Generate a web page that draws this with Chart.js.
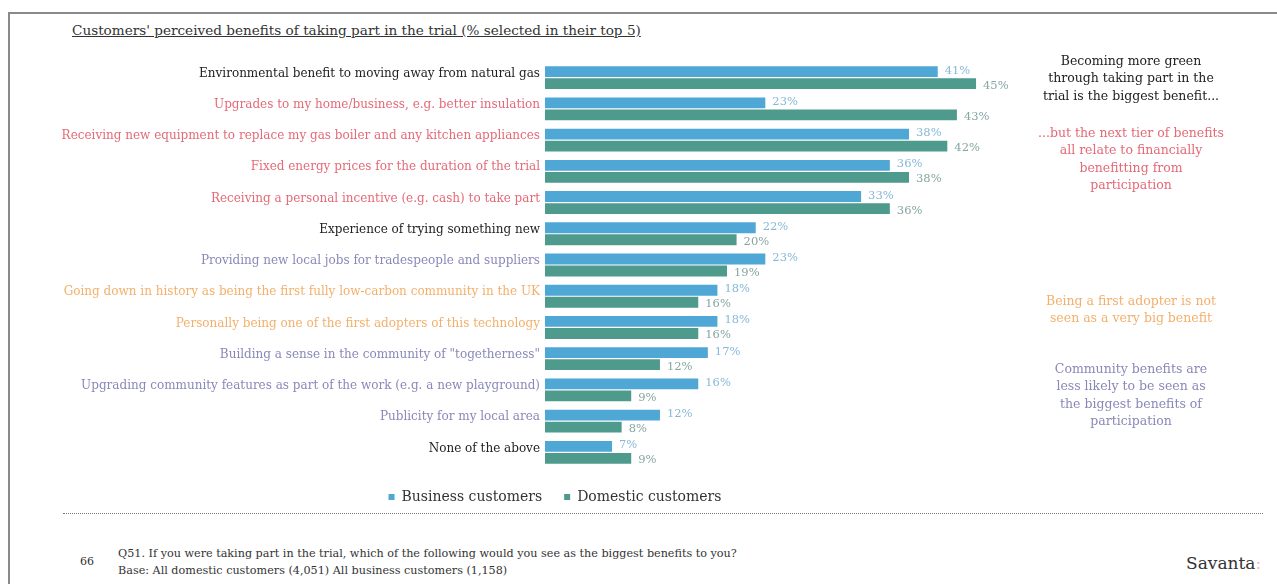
<!DOCTYPE html>
<html>
<head>
<meta charset="utf-8">
<script src="https://cdn.jsdelivr.net/npm/chart.js@4/dist/chart.umd.min.js"></script>
<style>
  html, body { margin: 0; padding: 0; background: #fff; }
  body { width: 1277px; height: 584px; position: relative; overflow: hidden; font-family: "DejaVu Serif", Georgia, serif; }
  #frame { position: absolute; left: 8px; top: 12px; width: 1280px; height: 600px; border-left: 2px solid #8a8a8a; border-top: 2px solid #8a8a8a; }
  #wrap { position: absolute; left: 0; top: 0; width: 1277px; height: 516px; }
  .title { position: absolute; left: 72px; top: 22px; font-size: 13.6px; color: #333; text-decoration: underline; white-space: nowrap; }
  .note { position: absolute; text-align: center; font-size: 12.5px; line-height: 17.3px; white-space: nowrap; }
  #dots { position: absolute; left: 63px; top: 513px; width: 1200px; border-top: 1px dotted #777; }
  .foot { position: absolute; font-size: 11.2px; color: #333; white-space: nowrap; }
  .brand { position: absolute; left: 1186px; top: 553px; font-size: 17px; color: #333; }
  .brand span { color: #f4b8c4; }
</style>
</head>
<body>
<div id="frame"></div>
<div class="title">Customers' perceived benefits of taking part in the trial (% selected in their top 5)</div>
<div id="wrap"><canvas id="chart" width="1277" height="516"></canvas></div>

<div class="note" style="left:1031px; top:52px; width:200px; color:#222;">Becoming more green<br>through taking part in the<br>trial is the biggest benefit...</div>
<div class="note" style="left:1031px; top:124px; width:200px; color:#e46a76;">...but the next tier of benefits<br>all relate to financially<br>benefitting from<br>participation</div>
<div class="note" style="left:1031px; top:292px; width:200px; color:#f3b06c;">Being a first adopter is not<br>seen as a very big benefit</div>
<div class="note" style="left:1031px; top:360px; width:200px; color:#8a88b8;">Community benefits are<br>less likely to be seen as<br>the biggest benefits of<br>participation</div>

<div id="dots"></div>
<div class="foot" style="left:80px; top:555px; font-size:11px;">66</div>
<div class="foot" style="left:118px; top:547px;">Q51. If you were taking part in the trial, which of the following would you see as the biggest benefits to you?</div>
<div class="foot" style="left:118px; top:564px;">Base: All domestic customers (4,051) All business customers (1,158)</div>
<div class="brand">Savanta<span>:</span></div>

<script>
// Benefit statements, in the order they are listed
const categories = [
  "Environmental benefit to moving away from natural gas",
  "Upgrades to my home/business, e.g. better insulation",
  "Receiving new equipment to replace my gas boiler and any kitchen appliances",
  "Fixed energy prices for the duration of the trial",
  "Receiving a personal incentive (e.g. cash) to take part",
  "Experience of trying something new",
  "Providing new local jobs for tradespeople and suppliers",
  "Going down in history as being the first fully low-carbon community in the UK",
  "Personally being one of the first adopters of this technology",
  "Building a sense in the community of \"togetherness\"",
  "Upgrading community features as part of the work (e.g. a new playground)",
  "Publicity for my local area",
  "None of the above"
];

// % selecting each benefit in their top 5
const businessValues = [41, 23, 38, 36, 33, 22, 23, 18, 18, 17, 16, 12, 7];
const domesticValues = [45, 43, 42, 38, 36, 20, 19, 16, 16, 12, 9, 8, 9];

// Theme group of each statement (drives label colour)
const themeGroups = ["green", "money", "money", "money", "money", "other", "community",
                     "adopter", "adopter", "community", "community", "community", "other"];

const themeColours = {
  green: "#222222",
  other: "#222222",
  money: "#e46a76",
  community: "#8a88b8",
  adopter: "#f3b06c"
};

const BUSINESS_BAR = "#4fa7d6";
const DOMESTIC_BAR = "#4e9a8d";
const BUSINESS_LABEL = "#86b9d8";
const DOMESTIC_LABEL = "#86a6a2";

const CHART_LEFT = 545;
const LEGEND_LEFT = 110;

// Percentage labels at the end of each bar
const valueLabels = {
  id: "valueLabels",
  afterDatasetsDraw(chart) {
    const ctx = chart.ctx;
    ctx.save();
    ctx.font = "11.5px 'DejaVu Serif', serif";
    ctx.textAlign = "left";
    ctx.textBaseline = "middle";
    chart.data.datasets.forEach((ds, di) => {
      const meta = chart.getDatasetMeta(di);
      ctx.fillStyle = di === 0 ? BUSINESS_LABEL : DOMESTIC_LABEL;
      meta.data.forEach((bar, i) => {
        ctx.fillText(ds.data[i] + "%", bar.x + 7, bar.y + (di === 0 ? -1 : 2));
      });
    });
    ctx.restore();
  }
};

// Centre the legend under the whole figure rather than the full canvas
const legendBand = {
  id: "legendBand",
  beforeDraw(chart) {
    if (chart.legend) {
      chart.legend.left = LEGEND_LEFT;
      chart.legend.right = chart.chartArea.right;
    }
  }
};

new Chart(document.getElementById("chart"), {
  type: "bar",
  data: {
    labels: categories,
    datasets: [
      { label: "Business customers", data: businessValues, backgroundColor: BUSINESS_BAR,
        categoryPercentage: 0.77, barPercentage: 0.9 },
      { label: "Domestic customers", data: domesticValues, backgroundColor: DOMESTIC_BAR,
        categoryPercentage: 0.77, barPercentage: 0.9 }
    ]
  },
  options: {
    indexAxis: "y",
    responsive: false,
    animation: false,
    layout: { padding: { left: 0, right: 277, top: 62, bottom: 2 } },
    plugins: {
      tooltip: { enabled: false },
      legend: {
        position: "bottom",
        labels: {
          font: { family: "'DejaVu Serif', serif", size: 14 },
          color: "#333",
          boxWidth: 6,
          boxHeight: 6,
          padding: 22
        }
      }
    },
    scales: {
      x: {
        min: 0,
        max: 47.5,
        display: false,
        grid: { display: false }
      },
      y: {
        grid: { display: false, drawTicks: false },
        border: { display: false },
        afterFit(scale) { scale.width = CHART_LEFT; },
        ticks: {
          padding: 5,
          labelOffset: -4,
          autoSkip: false,
          font: { family: "'DejaVu Serif', serif", size: 12 },
          color: (c) => themeColours[themeGroups[c.index]]
        }
      }
    }
  },
  plugins: [valueLabels, legendBand]
});
</script>
</body>
</html>
